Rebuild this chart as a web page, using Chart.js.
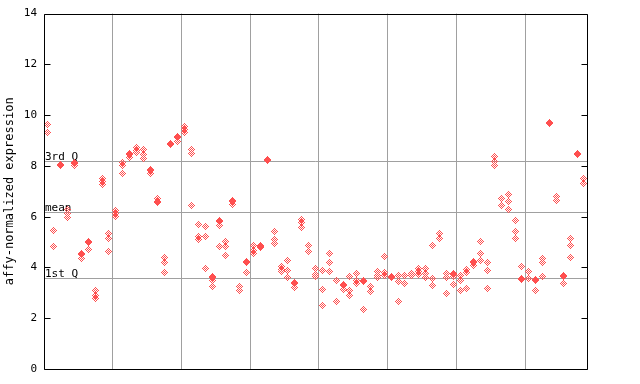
<!DOCTYPE html>
<html><head><meta charset="utf-8">
<script src="https://cdn.jsdelivr.net/npm/chart.js@4.4.0/dist/chart.umd.min.js"></script>
<style>html,body{margin:0;padding:0;background:#fff;}</style>
</head><body>
<canvas id="c" width="640" height="384"></canvas>
<script>
// ---- data ----
const yTickValues = [0, 2, 4, 6, 8, 10, 12, 14];
const groupBoundaries = [9.5, 19.5, 29.5, 39.5, 49.5, 59.5, 69.5];
const lineLabels = ['3rd Q', 'mean', '1st Q'];
const lineValues = [8.21, 6.2, 3.6];
const yTitle = 'affy-normalized expression';

// replicate values of each sample, samples in x order, 10 per group
const group1 = [[9.62, 9.31], [5.47, 4.81], [8.04, 8.0], [6.29, 6.12, 5.96], [8.14, 8.1, 8.02],
  [4.54, 4.5, 4.35], [5.02, 4.98, 4.71], [3.11, 2.9, 2.78], [7.52, 7.38, 7.25], [5.35, 5.14, 4.63]];
const group2 = [[6.25, 6.12, 5.99], [8.12, 8.0, 7.69], [8.5, 8.46, 8.34], [8.74, 8.61, 8.51], [8.63, 8.46, 8.29],
  [7.85, 7.81, 7.72], [6.71, 6.6, 6.56], [4.41, 4.2, 3.8], [8.87, 8.83], [9.16, 9.12, 8.97]];
const group3 = [[9.55, 9.45, 9.33], [8.65, 8.48, 6.45], [5.69, 5.2, 5.1], [5.62, 5.23, 3.96], [3.63, 3.59, 3.5, 3.26],
  [5.84, 5.8, 5.67, 4.81], [5.03, 4.84, 4.48], [6.62, 6.58, 6.47], [3.24, 3.11], [4.24, 4.2, 3.8]];
const group4 = [[4.88, 4.66, 4.55], [4.88, 4.84, 4.8], [8.24, 8.2], [5.41, 5.09, 4.95], [4.02, 3.93, 3.83],
  [4.27, 3.88, 3.6], [3.39, 3.35, 3.21], [5.88, 5.79, 5.57], [4.87, 4.64], [3.96, 3.72, 3.63]];
const group5 = [[3.89, 3.15, 2.52], [4.55, 4.19, 3.84], [3.5, 2.67], [3.32, 3.28, 3.14], [3.63, 3.11, 2.91],
  [3.76, 3.5, 3.37], [3.47, 3.43, 2.35], [3.26, 3.04], [3.83, 3.7, 3.6], [4.44, 3.8, 3.67]];
const group6 = [[3.65, 3.61], [3.7, 3.45, 2.67], [3.7, 3.37], [3.77, 3.67], [3.96, 3.84, 3.74],
  [3.96, 3.76, 3.59], [4.86, 3.57, 3.3], [5.33, 5.14], [3.76, 3.6, 2.98], [3.76, 3.72, 3.63, 3.34]];
const group7 = [[3.7, 3.5, 3.11], [3.92, 3.81, 3.17], [4.24, 4.2, 4.09], [5.03, 4.55, 4.29], [4.19, 3.89, 3.17],
  [8.37, 8.19, 8.01], [6.71, 6.44], [6.88, 6.61, 6.28], [5.86, 5.43, 5.15], [4.05, 3.58, 3.54]];
const group8 = [[3.85, 3.56], [3.52, 3.48, 3.11], [4.35, 4.19, 3.66], [9.72, 9.66], [6.8, 6.64],
  [3.7, 3.63, 3.37], [5.16, 4.88, 4.4], [8.5, 8.46], [7.5, 7.3]];

// ---- build ----
const samples = [].concat(group1, group2, group3, group4, group5, group6, group7, group8);
const points = [];
samples.forEach((reps, i) => reps.forEach(v => points.push({ x: i, y: v })));

const RED = '#ff4f4f';
const GRID = '#a0a0a0';
const FONT = 'DejaVu Sans Mono';

// checkered diamond marker
function makeMarker() {
  const c = document.createElement('canvas');
  c.width = 7; c.height = 7;
  const g = c.getContext('2d');
  g.fillStyle = RED;
  for (let dy = -3; dy <= 3; dy++) {
    for (let dx = -3; dx <= 3; dx++) {
      if (Math.abs(dx) + Math.abs(dy) <= 3 && Math.abs(dx + dy) % 2 === 1) g.fillRect(dx + 3, dy + 3, 1, 1);
    }
  }
  return c;
}
const marker = makeMarker();

const framePlugin = {
  id: 'frame',
  beforeDatasetsDraw(chart) {
    const { ctx, chartArea: a, scales: { y } } = chart;
    ctx.save();
    ctx.strokeStyle = GRID;
    ctx.lineWidth = 1;
    ctx.fillStyle = '#000';
    ctx.font = '11px ' + FONT;
    ctx.textBaseline = 'alphabetic';
    ctx.textAlign = 'left';
    lineValues.forEach((v, k) => {
      const py = Math.round(y.getPixelForValue(v)) + 0.5;
      ctx.beginPath(); ctx.moveTo(a.left, py); ctx.lineTo(a.right, py); ctx.stroke();
      ctx.fillText(lineLabels[k], a.left + 1, py - 1.5);
    });
    ctx.restore();
    chart.ctx.imageSmoothingEnabled = false;
  },
  afterDatasetsDraw(chart) {
    const { ctx, chartArea: a, scales: { y } } = chart;
    ctx.save();
    ctx.strokeStyle = '#000';
    ctx.lineWidth = 1;
    const L = Math.round(a.left) + 0.5, R = Math.round(a.right) - 0.5;
    const T = Math.round(a.top) + 0.5, B = Math.round(a.bottom) + 0.5;
    ctx.beginPath();
    ctx.rect(L, T, R - L, B - T);
    ctx.stroke();
    yTickValues.forEach(v => {
      const py = Math.round(y.getPixelForValue(v)) + 0.5;
      ctx.beginPath();
      ctx.moveTo(L, py); ctx.lineTo(L + 6, py);
      ctx.moveTo(R, py); ctx.lineTo(R - 6, py);
      ctx.stroke();
    });
    ctx.restore();
  }
};

new Chart(document.getElementById('c'), {
  type: 'scatter',
  data: {
    datasets: [{
      data: points,
      pointStyle: marker,
      pointRadius: 3.5,
      pointHoverRadius: 3.5,
      backgroundColor: RED,
      borderColor: RED
    }]
  },
  options: {
    responsive: false,
    animation: false,
    devicePixelRatio: 1,
    layout: { padding: { left: 0, top: 13, right: 52.5, bottom: 15 } },
    plugins: { legend: { display: false }, tooltip: { enabled: false } },
    scales: {
      x: {
        type: 'linear', min: -0.44, max: 78.52,
        afterBuildTicks: s => { s.ticks = groupBoundaries.map(v => ({ value: v })); },
        afterFit: s => { s.height = 0; },
        ticks: { display: false },
        grid: { color: GRID, lineWidth: 1, drawTicks: false },
        border: { display: false }
      },
      y: {
        min: 0, max: 14,
        afterBuildTicks: s => { s.ticks = yTickValues.map(v => ({ value: v })); },
        afterFit: s => { s.width = 44; },
        ticks: { color: '#000', font: { family: FONT, size: 11 }, padding: 7 },
        grid: { display: false, drawTicks: false },
        border: { display: false },
        title: { display: true, text: yTitle, color: '#000', font: { family: FONT, size: 12 }, padding: { top: 3, bottom: 0 } }
      }
    }
  },
  plugins: [framePlugin]
});
</script>
</body></html>
